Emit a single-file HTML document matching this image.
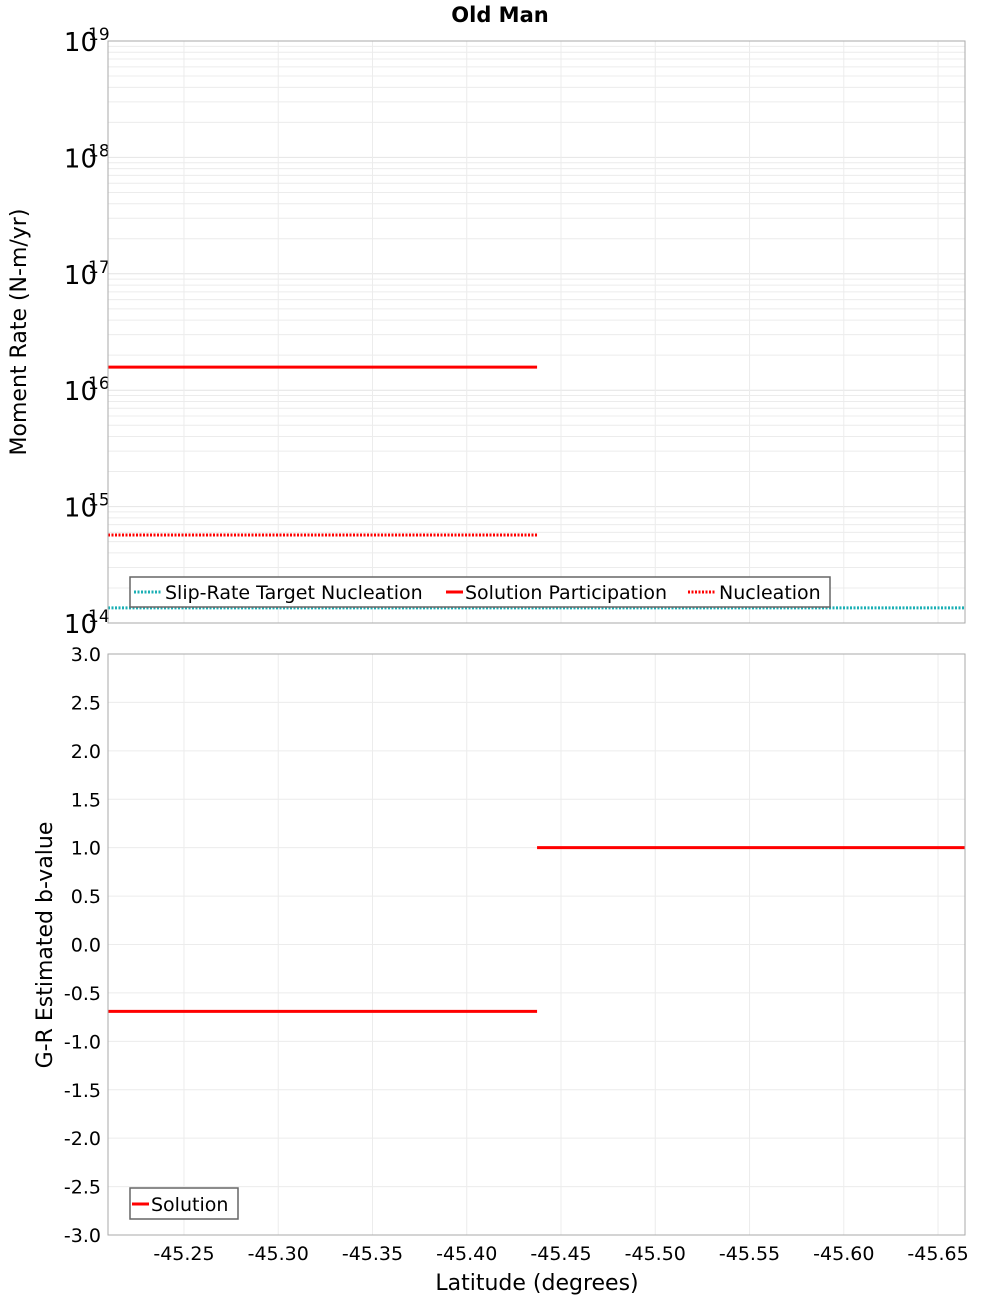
<!DOCTYPE html>
<html><head><meta charset="utf-8"><style>
body{margin:0;background:#fff;}
svg{display:block;font-family:"DejaVu Sans","Liberation Sans",sans-serif;}
</style></head><body>
<svg id="c" width="1000" height="1300" xmlns="http://www.w3.org/2000/svg">
<text x="500" y="22" text-anchor="middle" font-size="21" font-weight="bold">Old Man</text>
</svg>
<script>
const xTicks=[-45.25,-45.30,-45.35,-45.40,-45.45,-45.50,-45.55,-45.60,-45.65];
const xTickLabels=["-45.25","-45.30","-45.35","-45.40","-45.45","-45.50","-45.55","-45.60","-45.65"];
const segStarts=[-45.2097,-45.4373];
const segEnds=[-45.4373,-45.6643];
const solutionParticipation=[1.58e16,null];
const nucleation=[5.7e14,null];
const slipRateTarget=[1.35e14];
const bValues=[-0.69,1.0];
const bTicks=[3.0,2.5,2.0,1.5,1.0,0.5,0.0,-0.5,-1.0,-1.5,-2.0,-2.5,-3.0];
const logDecades=[14,15,16,17,18,19];

const L=108,R=965,T1=41,B1=623,T2=654,B2=1235;
const X0=-45.2097,X1=-45.6643;
const xs=v=>L+(v-X0)/(X1-X0)*(R-L);
const y1=v=>B1-(Math.log10(v)-14)/5*(B1-T1);
const y2=v=>T2+(3-v)/6*(B2-T2);
const svg=document.getElementById('c');
const NS="http://www.w3.org/2000/svg";
function mk(tag,a,txt){const e=document.createElementNS(NS,tag);for(const k in a)e.setAttribute(k,a[k]);if(txt!=null)e.textContent=txt;svg.appendChild(e);return e;}

// top grid
for(let d=14;d<19;d++)for(let m=2;m<=9;m++){const y=y1(m*Math.pow(10,d));
const e=mk('line',{x1:L,x2:R,y1:y,y2:y,stroke:'#ececec','stroke-width':1});

}
logDecades.forEach(d=>{const y=y1(Math.pow(10,d));
const e=mk('line',{x1:L,x2:R,y1:y,y2:y,stroke:'#e4e4e4'});


const t=mk('text',{x:97,y:y+10,'text-anchor':'end','font-size':26},'10');


const s=mk('text',{x:88,y:y-1,'font-size':17},String(d));

});
xTicks.forEach(v=>{const x=xs(v);
[[T1,B1],[T2,B2]].forEach(p=>{const e=mk('line',{x1:x,x2:x,y1:p[0],y2:p[1],stroke:'#ececec'});

});});
// bottom grid + ticks
bTicks.forEach(v=>{const y=y2(v);
const e=mk('line',{x1:L,x2:R,y1:y,y2:y,stroke:'#ececec'});


const t=mk('text',{x:101,y:y+7,'text-anchor':'end','font-size':19},v.toFixed(1));

});
xTicks.forEach((v,i)=>{const t=mk('text',{x:xs(v),y:1260,'text-anchor':'middle','font-size':19},xTickLabels[i]);

});

// series top
const cy=mk('line',{x1:L,x2:R,y1:y1(slipRateTarget[0]),y2:y1(slipRateTarget[0]),stroke:'#1aafb4','stroke-width':3,'stroke-dasharray':'2,1.5'});


segStarts.forEach((s,i)=>{
if(solutionParticipation[i]!=null){const y=y1(solutionParticipation[i]);
const e=mk('line',{x1:xs(s),x2:xs(segEnds[i]),y1:y,y2:y,stroke:'#ff0000','stroke-width':3});

}
if(nucleation[i]!=null){const y=y1(nucleation[i]);
const e=mk('line',{x1:xs(s),x2:xs(segEnds[i]),y1:y,y2:y,stroke:'#ff0000','stroke-width':3,'stroke-dasharray':'2,1.5'});

}
const yb=y2(bValues[i]);
const b=mk('line',{x1:xs(s),x2:xs(segEnds[i]),y1:yb,y2:yb,stroke:'#ff0000','stroke-width':3});


});
// frames
[[T1,B1],[T2,B2]].forEach(p=>{const e=mk('rect',{x:L,y:p[0],width:R-L,height:p[1]-p[0],fill:'none',stroke:'#aaa'});

});
</script>
<svg style="position:absolute;left:0;top:0" width="1000" height="1300" xmlns="http://www.w3.org/2000/svg" font-family="DejaVu Sans, Liberation Sans, sans-serif">
<g>
<rect x="130" y="577" width="700" height="30" fill="#fff" stroke="#666" stroke-width="1.5"/>
<line x1="134" x2="161" y1="592" y2="592" stroke="#1aafb4" stroke-width="3" stroke-dasharray="2,1.5"/>
<text x="165" y="599" font-size="19">Slip-Rate Target Nucleation</text>
<line x1="446" x2="463" y1="592" y2="592" stroke="#f00" stroke-width="3"/>
<text x="465" y="599" font-size="19">Solution Participation</text>
<line x1="688" x2="716" y1="592" y2="592" stroke="#f00" stroke-width="3" stroke-dasharray="2,1.5"/>
<text x="719" y="599" font-size="19">Nucleation</text>
</g>
<g>
<rect x="130" y="1188" width="108" height="31" fill="#fff" stroke="#666" stroke-width="1.5"/>
<line x1="132" x2="149" y1="1204" y2="1204" stroke="#f00" stroke-width="3"/>
<text x="151" y="1211" font-size="19">Solution</text>
</g>
<text transform="translate(26,332) rotate(-90)" text-anchor="middle" font-size="22">Moment Rate (N-m/yr)</text>
<text transform="translate(52,945) rotate(-90)" text-anchor="middle" font-size="22">G-R Estimated b-value</text>
<text x="537" y="1290" text-anchor="middle" font-size="22">Latitude (degrees)</text>
</svg>
</body></html>
